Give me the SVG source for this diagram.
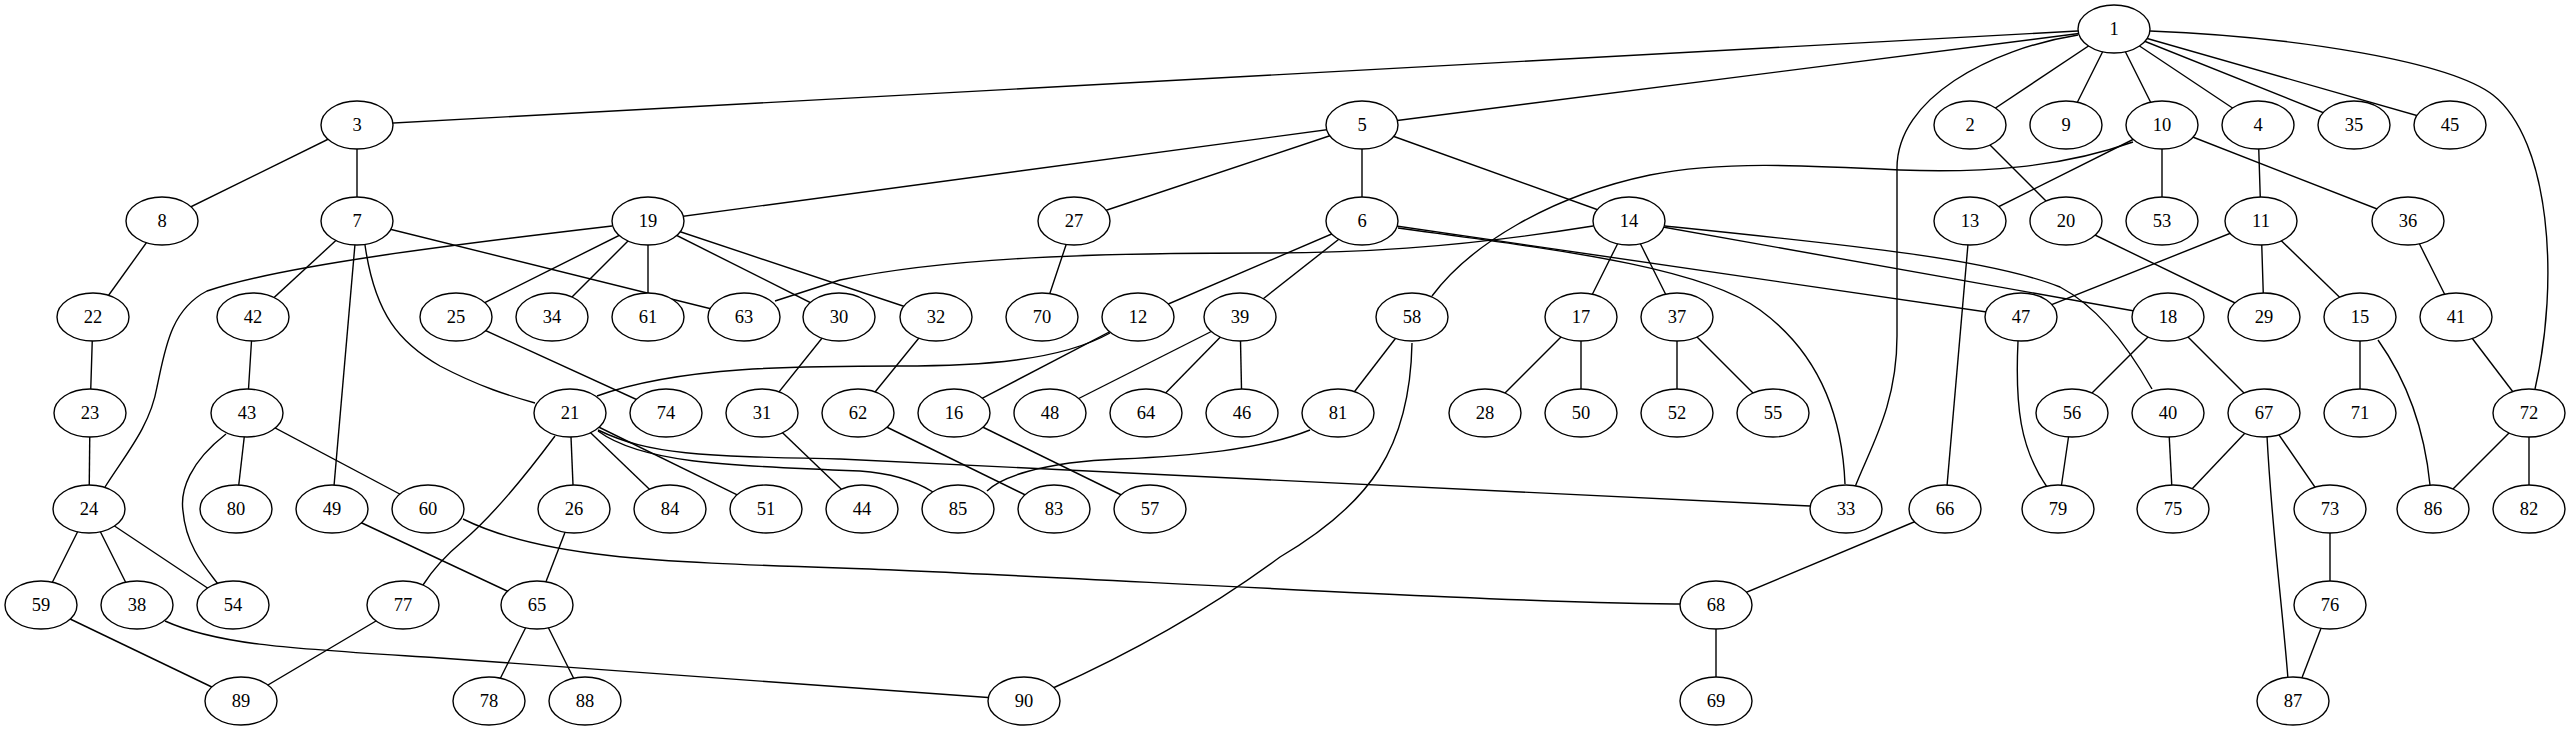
<svg xmlns="http://www.w3.org/2000/svg" width="2571" height="731" viewBox="0 0 2571 731">
<style>
.e{fill:none;stroke:#000;stroke-width:1.4}
.n ellipse{fill:#fff;stroke:#000;stroke-width:1.4}
.n text{font-family:"Liberation Serif","Times New Roman",serif;font-size:18.5px;text-anchor:middle;fill:#000}
</style>
<rect width="2571" height="731" fill="#fff"/>
<g id="connectors" class="e">
<line x1="2114" y1="29" x2="357" y2="125"/>
<line x1="2114" y1="29" x2="1362" y2="125"/>
<line x1="2114" y1="29" x2="1970" y2="125"/>
<line x1="2114" y1="29" x2="2066" y2="125"/>
<line x1="2114" y1="29" x2="2162" y2="125"/>
<line x1="2114" y1="29" x2="2258" y2="125"/>
<line x1="2114" y1="29" x2="2354" y2="125"/>
<line x1="2114" y1="29" x2="2450" y2="125"/>
<path d="M2150,31 C2300,37 2450,62 2493,95 C2550,140 2560,280 2535,389"/>
<path d="M2078,35 C1990,49 1897,98 1897,168 L1897,336 C1897,406 1870,448 1855,487"/>
<line x1="357" y1="125" x2="357" y2="221"/>
<line x1="357" y1="125" x2="162" y2="221"/>
<line x1="1362" y1="125" x2="648" y2="221"/>
<line x1="1362" y1="125" x2="1074" y2="221"/>
<line x1="1362" y1="125" x2="1362" y2="221"/>
<line x1="1362" y1="125" x2="1629" y2="221"/>
<line x1="1970" y1="125" x2="2066" y2="221"/>
<path d="M2133,142 C2060,168 1980,173 1900,170 C1800,165 1720,161 1650,175 C1550,196 1470,245 1432,296"/>
<line x1="2162" y1="125" x2="1970" y2="221"/>
<line x1="2162" y1="125" x2="2162" y2="221"/>
<line x1="2162" y1="125" x2="2408" y2="221"/>
<line x1="2258" y1="125" x2="2261" y2="221"/>
<line x1="162" y1="221" x2="93" y2="317"/>
<line x1="357" y1="221" x2="253" y2="317"/>
<line x1="357" y1="221" x2="744" y2="317"/>
<line x1="357" y1="221" x2="332" y2="509"/>
<path d="M365,245 C375,315 400,343 440,366 C480,387 510,396 535,403"/>
<path d="M612,226 C450,245 280,266 207,291 C170,310 165,350 157,387 C150,427 125,455 105,487"/>
<line x1="648" y1="221" x2="456" y2="317"/>
<line x1="648" y1="221" x2="552" y2="317"/>
<line x1="648" y1="221" x2="648" y2="317"/>
<line x1="648" y1="221" x2="839" y2="317"/>
<line x1="648" y1="221" x2="936" y2="317"/>
<line x1="1074" y1="221" x2="1042" y2="317"/>
<line x1="1362" y1="221" x2="1138" y2="317"/>
<line x1="1362" y1="221" x2="1240" y2="317"/>
<line x1="1362" y1="221" x2="2021" y2="317"/>
<path d="M1398,228 C1550,249 1700,266 1760,310 C1830,361 1843,434 1845,484"/>
<path d="M1593,226 C1450,249 1350,253 1260,253 C1100,253 950,257 840,280 L775,301"/>
<line x1="1629" y1="221" x2="1581" y2="317"/>
<line x1="1629" y1="221" x2="1677" y2="317"/>
<line x1="1629" y1="221" x2="2168" y2="317"/>
<path d="M1665,226 C1850,245 1990,259 2060,287 C2100,308 2130,350 2152,389"/>
<line x1="1970" y1="221" x2="1945" y2="509"/>
<line x1="2066" y1="221" x2="2264" y2="317"/>
<line x1="2261" y1="221" x2="2021" y2="317"/>
<line x1="2261" y1="221" x2="2264" y2="317"/>
<line x1="2261" y1="221" x2="2360" y2="317"/>
<line x1="2408" y1="221" x2="2456" y2="317"/>
<line x1="93" y1="317" x2="90" y2="413"/>
<line x1="253" y1="317" x2="247" y2="413"/>
<line x1="456" y1="317" x2="666" y2="413"/>
<line x1="839" y1="317" x2="762" y2="413"/>
<line x1="936" y1="317" x2="858" y2="413"/>
<path d="M1110,333 C1060,361 980,366 900,366 C800,366 680,366 597,396"/>
<line x1="1138" y1="317" x2="954" y2="413"/>
<line x1="1240" y1="317" x2="1050" y2="413"/>
<line x1="1240" y1="317" x2="1146" y2="413"/>
<line x1="1240" y1="317" x2="1242" y2="413"/>
<line x1="1412" y1="317" x2="1338" y2="413"/>
<path d="M1412,343 C1410,448 1370,504 1280,557 C1200,616 1120,658 1053,688"/>
<line x1="1581" y1="317" x2="1485" y2="413"/>
<line x1="1581" y1="317" x2="1581" y2="413"/>
<line x1="1677" y1="317" x2="1677" y2="413"/>
<line x1="1677" y1="317" x2="1773" y2="413"/>
<path d="M2018,341 C2015,406 2020,448 2047,487"/>
<line x1="2168" y1="317" x2="2072" y2="413"/>
<line x1="2168" y1="317" x2="2264" y2="413"/>
<line x1="2360" y1="317" x2="2360" y2="413"/>
<path d="M2378,340 C2410,385 2425,434 2430,485"/>
<line x1="2456" y1="317" x2="2529" y2="413"/>
<line x1="90" y1="413" x2="89" y2="509"/>
<line x1="247" y1="413" x2="236" y2="509"/>
<line x1="247" y1="413" x2="428" y2="509"/>
<path d="M226,434 C190,462 180,490 183,511 C186,546 205,567 218,584"/>
<path d="M555,436 C520,483 490,518 463,541 C440,560 430,574 423,585"/>
<line x1="570" y1="413" x2="574" y2="509"/>
<line x1="570" y1="413" x2="670" y2="509"/>
<line x1="570" y1="413" x2="766" y2="509"/>
<path d="M598,431 C640,462 720,466 860,471 C890,473 915,481 933,492"/>
<path d="M598,430 C650,455 700,456 840,459 L1810,506"/>
<line x1="762" y1="413" x2="862" y2="509"/>
<line x1="858" y1="413" x2="1054" y2="509"/>
<line x1="954" y1="413" x2="1150" y2="509"/>
<path d="M1310,430 C1260,450 1190,456 1120,459 C1040,462 1000,478 987,491"/>
<line x1="2072" y1="413" x2="2058" y2="509"/>
<line x1="2168" y1="413" x2="2173" y2="509"/>
<line x1="2264" y1="413" x2="2173" y2="509"/>
<line x1="2264" y1="413" x2="2330" y2="509"/>
<path d="M2267,436 C2272,532 2282,602 2288,679"/>
<line x1="2529" y1="413" x2="2433" y2="509"/>
<line x1="2529" y1="413" x2="2529" y2="509"/>
<line x1="89" y1="509" x2="41" y2="605"/>
<line x1="89" y1="509" x2="137" y2="605"/>
<line x1="89" y1="509" x2="233" y2="605"/>
<line x1="332" y1="509" x2="537" y2="605"/>
<path d="M463,519 C540,557 650,562 840,568 S1500,604 1690,604"/>
<line x1="574" y1="509" x2="537" y2="605"/>
<line x1="1945" y1="509" x2="1716" y2="605"/>
<line x1="2330" y1="509" x2="2330" y2="605"/>
<line x1="41" y1="605" x2="241" y2="701"/>
<path d="M165,621 C220,646 300,649 440,658 L995,698"/>
<line x1="403" y1="605" x2="241" y2="701"/>
<line x1="537" y1="605" x2="489" y2="701"/>
<line x1="537" y1="605" x2="585" y2="701"/>
<line x1="1716" y1="605" x2="1716" y2="701"/>
<line x1="2330" y1="605" x2="2293" y2="701"/>
</g>
<g id="node1" class="n"><ellipse cx="2114" cy="29" rx="36" ry="24"/><text x="2114" y="35">1</text></g>
<g id="node2" class="n"><ellipse cx="1970" cy="125" rx="36" ry="24"/><text x="1970" y="131">2</text></g>
<g id="node3" class="n"><ellipse cx="357" cy="125" rx="36" ry="24"/><text x="357" y="131">3</text></g>
<g id="node4" class="n"><ellipse cx="2258" cy="125" rx="36" ry="24"/><text x="2258" y="131">4</text></g>
<g id="node5" class="n"><ellipse cx="1362" cy="125" rx="36" ry="24"/><text x="1362" y="131">5</text></g>
<g id="node6" class="n"><ellipse cx="1362" cy="221" rx="36" ry="24"/><text x="1362" y="227">6</text></g>
<g id="node7" class="n"><ellipse cx="357" cy="221" rx="36" ry="24"/><text x="357" y="227">7</text></g>
<g id="node8" class="n"><ellipse cx="162" cy="221" rx="36" ry="24"/><text x="162" y="227">8</text></g>
<g id="node9" class="n"><ellipse cx="2066" cy="125" rx="36" ry="24"/><text x="2066" y="131">9</text></g>
<g id="node10" class="n"><ellipse cx="2162" cy="125" rx="36" ry="24"/><text x="2162" y="131">10</text></g>
<g id="node11" class="n"><ellipse cx="2261" cy="221" rx="36" ry="24"/><text x="2261" y="227">11</text></g>
<g id="node12" class="n"><ellipse cx="1138" cy="317" rx="36" ry="24"/><text x="1138" y="323">12</text></g>
<g id="node13" class="n"><ellipse cx="1970" cy="221" rx="36" ry="24"/><text x="1970" y="227">13</text></g>
<g id="node14" class="n"><ellipse cx="1629" cy="221" rx="36" ry="24"/><text x="1629" y="227">14</text></g>
<g id="node15" class="n"><ellipse cx="2360" cy="317" rx="36" ry="24"/><text x="2360" y="323">15</text></g>
<g id="node16" class="n"><ellipse cx="954" cy="413" rx="36" ry="24"/><text x="954" y="419">16</text></g>
<g id="node17" class="n"><ellipse cx="1581" cy="317" rx="36" ry="24"/><text x="1581" y="323">17</text></g>
<g id="node18" class="n"><ellipse cx="2168" cy="317" rx="36" ry="24"/><text x="2168" y="323">18</text></g>
<g id="node19" class="n"><ellipse cx="648" cy="221" rx="36" ry="24"/><text x="648" y="227">19</text></g>
<g id="node20" class="n"><ellipse cx="2066" cy="221" rx="36" ry="24"/><text x="2066" y="227">20</text></g>
<g id="node21" class="n"><ellipse cx="570" cy="413" rx="36" ry="24"/><text x="570" y="419">21</text></g>
<g id="node22" class="n"><ellipse cx="93" cy="317" rx="36" ry="24"/><text x="93" y="323">22</text></g>
<g id="node23" class="n"><ellipse cx="90" cy="413" rx="36" ry="24"/><text x="90" y="419">23</text></g>
<g id="node24" class="n"><ellipse cx="89" cy="509" rx="36" ry="24"/><text x="89" y="515">24</text></g>
<g id="node25" class="n"><ellipse cx="456" cy="317" rx="36" ry="24"/><text x="456" y="323">25</text></g>
<g id="node26" class="n"><ellipse cx="574" cy="509" rx="36" ry="24"/><text x="574" y="515">26</text></g>
<g id="node27" class="n"><ellipse cx="1074" cy="221" rx="36" ry="24"/><text x="1074" y="227">27</text></g>
<g id="node28" class="n"><ellipse cx="1485" cy="413" rx="36" ry="24"/><text x="1485" y="419">28</text></g>
<g id="node29" class="n"><ellipse cx="2264" cy="317" rx="36" ry="24"/><text x="2264" y="323">29</text></g>
<g id="node30" class="n"><ellipse cx="839" cy="317" rx="36" ry="24"/><text x="839" y="323">30</text></g>
<g id="node31" class="n"><ellipse cx="762" cy="413" rx="36" ry="24"/><text x="762" y="419">31</text></g>
<g id="node32" class="n"><ellipse cx="936" cy="317" rx="36" ry="24"/><text x="936" y="323">32</text></g>
<g id="node33" class="n"><ellipse cx="1846" cy="509" rx="36" ry="24"/><text x="1846" y="515">33</text></g>
<g id="node34" class="n"><ellipse cx="552" cy="317" rx="36" ry="24"/><text x="552" y="323">34</text></g>
<g id="node35" class="n"><ellipse cx="2354" cy="125" rx="36" ry="24"/><text x="2354" y="131">35</text></g>
<g id="node36" class="n"><ellipse cx="2408" cy="221" rx="36" ry="24"/><text x="2408" y="227">36</text></g>
<g id="node37" class="n"><ellipse cx="1677" cy="317" rx="36" ry="24"/><text x="1677" y="323">37</text></g>
<g id="node38" class="n"><ellipse cx="137" cy="605" rx="36" ry="24"/><text x="137" y="611">38</text></g>
<g id="node39" class="n"><ellipse cx="1240" cy="317" rx="36" ry="24"/><text x="1240" y="323">39</text></g>
<g id="node40" class="n"><ellipse cx="2168" cy="413" rx="36" ry="24"/><text x="2168" y="419">40</text></g>
<g id="node41" class="n"><ellipse cx="2456" cy="317" rx="36" ry="24"/><text x="2456" y="323">41</text></g>
<g id="node42" class="n"><ellipse cx="253" cy="317" rx="36" ry="24"/><text x="253" y="323">42</text></g>
<g id="node43" class="n"><ellipse cx="247" cy="413" rx="36" ry="24"/><text x="247" y="419">43</text></g>
<g id="node44" class="n"><ellipse cx="862" cy="509" rx="36" ry="24"/><text x="862" y="515">44</text></g>
<g id="node45" class="n"><ellipse cx="2450" cy="125" rx="36" ry="24"/><text x="2450" y="131">45</text></g>
<g id="node46" class="n"><ellipse cx="1242" cy="413" rx="36" ry="24"/><text x="1242" y="419">46</text></g>
<g id="node47" class="n"><ellipse cx="2021" cy="317" rx="36" ry="24"/><text x="2021" y="323">47</text></g>
<g id="node48" class="n"><ellipse cx="1050" cy="413" rx="36" ry="24"/><text x="1050" y="419">48</text></g>
<g id="node49" class="n"><ellipse cx="332" cy="509" rx="36" ry="24"/><text x="332" y="515">49</text></g>
<g id="node50" class="n"><ellipse cx="1581" cy="413" rx="36" ry="24"/><text x="1581" y="419">50</text></g>
<g id="node51" class="n"><ellipse cx="766" cy="509" rx="36" ry="24"/><text x="766" y="515">51</text></g>
<g id="node52" class="n"><ellipse cx="1677" cy="413" rx="36" ry="24"/><text x="1677" y="419">52</text></g>
<g id="node53" class="n"><ellipse cx="2162" cy="221" rx="36" ry="24"/><text x="2162" y="227">53</text></g>
<g id="node54" class="n"><ellipse cx="233" cy="605" rx="36" ry="24"/><text x="233" y="611">54</text></g>
<g id="node55" class="n"><ellipse cx="1773" cy="413" rx="36" ry="24"/><text x="1773" y="419">55</text></g>
<g id="node56" class="n"><ellipse cx="2072" cy="413" rx="36" ry="24"/><text x="2072" y="419">56</text></g>
<g id="node57" class="n"><ellipse cx="1150" cy="509" rx="36" ry="24"/><text x="1150" y="515">57</text></g>
<g id="node58" class="n"><ellipse cx="1412" cy="317" rx="36" ry="24"/><text x="1412" y="323">58</text></g>
<g id="node59" class="n"><ellipse cx="41" cy="605" rx="36" ry="24"/><text x="41" y="611">59</text></g>
<g id="node60" class="n"><ellipse cx="428" cy="509" rx="36" ry="24"/><text x="428" y="515">60</text></g>
<g id="node61" class="n"><ellipse cx="648" cy="317" rx="36" ry="24"/><text x="648" y="323">61</text></g>
<g id="node62" class="n"><ellipse cx="858" cy="413" rx="36" ry="24"/><text x="858" y="419">62</text></g>
<g id="node63" class="n"><ellipse cx="744" cy="317" rx="36" ry="24"/><text x="744" y="323">63</text></g>
<g id="node64" class="n"><ellipse cx="1146" cy="413" rx="36" ry="24"/><text x="1146" y="419">64</text></g>
<g id="node65" class="n"><ellipse cx="537" cy="605" rx="36" ry="24"/><text x="537" y="611">65</text></g>
<g id="node66" class="n"><ellipse cx="1945" cy="509" rx="36" ry="24"/><text x="1945" y="515">66</text></g>
<g id="node67" class="n"><ellipse cx="2264" cy="413" rx="36" ry="24"/><text x="2264" y="419">67</text></g>
<g id="node68" class="n"><ellipse cx="1716" cy="605" rx="36" ry="24"/><text x="1716" y="611">68</text></g>
<g id="node69" class="n"><ellipse cx="1716" cy="701" rx="36" ry="24"/><text x="1716" y="707">69</text></g>
<g id="node70" class="n"><ellipse cx="1042" cy="317" rx="36" ry="24"/><text x="1042" y="323">70</text></g>
<g id="node71" class="n"><ellipse cx="2360" cy="413" rx="36" ry="24"/><text x="2360" y="419">71</text></g>
<g id="node72" class="n"><ellipse cx="2529" cy="413" rx="36" ry="24"/><text x="2529" y="419">72</text></g>
<g id="node73" class="n"><ellipse cx="2330" cy="509" rx="36" ry="24"/><text x="2330" y="515">73</text></g>
<g id="node74" class="n"><ellipse cx="666" cy="413" rx="36" ry="24"/><text x="666" y="419">74</text></g>
<g id="node75" class="n"><ellipse cx="2173" cy="509" rx="36" ry="24"/><text x="2173" y="515">75</text></g>
<g id="node76" class="n"><ellipse cx="2330" cy="605" rx="36" ry="24"/><text x="2330" y="611">76</text></g>
<g id="node77" class="n"><ellipse cx="403" cy="605" rx="36" ry="24"/><text x="403" y="611">77</text></g>
<g id="node78" class="n"><ellipse cx="489" cy="701" rx="36" ry="24"/><text x="489" y="707">78</text></g>
<g id="node79" class="n"><ellipse cx="2058" cy="509" rx="36" ry="24"/><text x="2058" y="515">79</text></g>
<g id="node80" class="n"><ellipse cx="236" cy="509" rx="36" ry="24"/><text x="236" y="515">80</text></g>
<g id="node81" class="n"><ellipse cx="1338" cy="413" rx="36" ry="24"/><text x="1338" y="419">81</text></g>
<g id="node82" class="n"><ellipse cx="2529" cy="509" rx="36" ry="24"/><text x="2529" y="515">82</text></g>
<g id="node83" class="n"><ellipse cx="1054" cy="509" rx="36" ry="24"/><text x="1054" y="515">83</text></g>
<g id="node84" class="n"><ellipse cx="670" cy="509" rx="36" ry="24"/><text x="670" y="515">84</text></g>
<g id="node85" class="n"><ellipse cx="958" cy="509" rx="36" ry="24"/><text x="958" y="515">85</text></g>
<g id="node86" class="n"><ellipse cx="2433" cy="509" rx="36" ry="24"/><text x="2433" y="515">86</text></g>
<g id="node87" class="n"><ellipse cx="2293" cy="701" rx="36" ry="24"/><text x="2293" y="707">87</text></g>
<g id="node88" class="n"><ellipse cx="585" cy="701" rx="36" ry="24"/><text x="585" y="707">88</text></g>
<g id="node89" class="n"><ellipse cx="241" cy="701" rx="36" ry="24"/><text x="241" y="707">89</text></g>
<g id="node90" class="n"><ellipse cx="1024" cy="701" rx="36" ry="24"/><text x="1024" y="707">90</text></g>
</svg>
